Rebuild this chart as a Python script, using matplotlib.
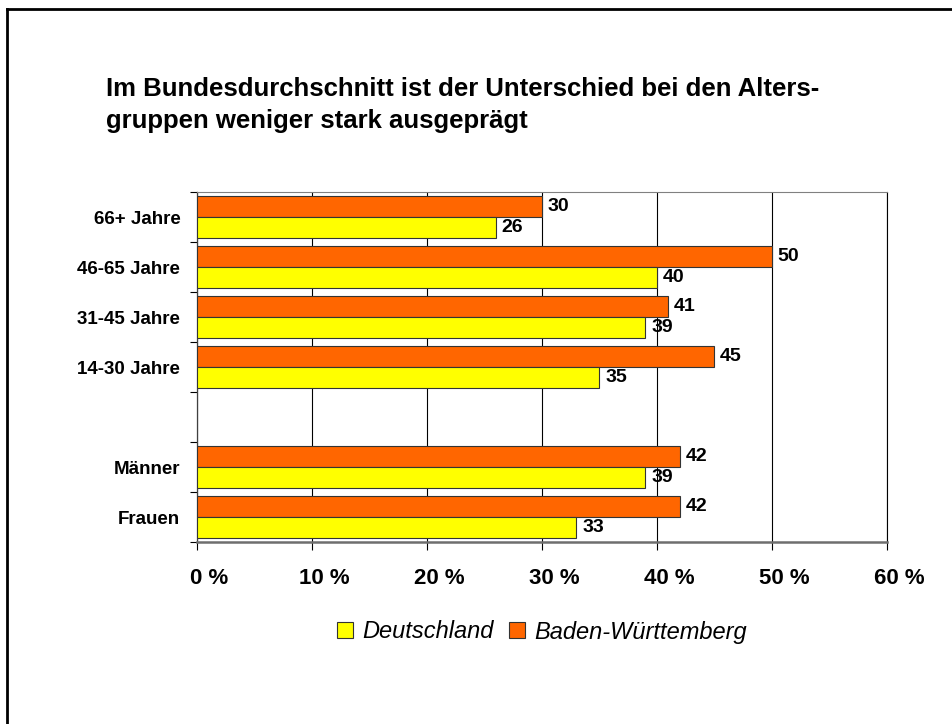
"""Altersgruppen: Deutschland vs. Baden-Württemberg (horizontales Balkendiagramm)."""
import matplotlib
matplotlib.use("Agg")
import matplotlib.pyplot as plt
import matplotlib.transforms as mtransforms
import numpy as np
from matplotlib.lines import Line2D

plt.rcParams["font.family"] = ["Liberation Sans", "DejaVu Sans"]

# ── Daten ──
categories = ["66+ Jahre", "46-65 Jahre", "31-45 Jahre", "14-30 Jahre", "", "Männer", "Frauen"]
deutschland = [26, 40, 39, 35, np.nan, 39, 33]
baden_wuerttemberg = [30, 50, 41, 45, np.nan, 42, 42]
x_ticks = [0, 10, 20, 30, 40, 50, 60]
x_ticklabels = ["0 %", "10 %", "20 %", "30 %", "40 %", "50 %", "60 %"]
title = ("Im Bundesdurchschnitt ist der Unterschied bei den Alters-\n"
         "gruppen weniger stark ausgeprägt")

YELLOW = "#FFFF00"
ORANGE = "#FF6600"


def main() -> None:
    W, H = 953, 724
    fig = plt.figure(figsize=(W / 100, H / 100), dpi=100)
    ax = fig.add_axes([197 / W, 1 - 542 / H, 690 / W, 350 / H])

    y = np.arange(len(categories))
    h = 0.42
    ax.barh(y - h / 2, baden_wuerttemberg, height=h, color=ORANGE,
            edgecolor="#333333", linewidth=0.8, zorder=3, label="Baden-Württemberg")
    ax.barh(y + h / 2, deutschland, height=h, color=YELLOW,
            edgecolor="#333333", linewidth=0.8, zorder=3, label="Deutschland")

    for yi, v in zip(y, baden_wuerttemberg):
        if not np.isnan(v):
            ax.annotate(f"{v:.0f}", (v, yi - h / 2), xytext=(4, 0), textcoords="offset points",
                        va="center", ha="left", fontsize=14, fontweight="bold")
    for yi, v in zip(y, deutschland):
        if not np.isnan(v):
            ax.annotate(f"{v:.0f}", (v, yi + h / 2), xytext=(4, 0), textcoords="offset points",
                        va="center", ha="left", fontsize=14, fontweight="bold")

    ax.set_xlim(0, 60)
    ax.set_ylim(len(categories) - 0.5, -0.5)

    ax.set_xticks(x_ticks)
    ax.set_xticklabels(x_ticklabels, fontsize=16, fontweight="bold")
    ax.tick_params(axis="x", length=5.5, width=0.8, pad=13, direction="out")
    shift = mtransforms.ScaledTranslation(12 / 100, 0, fig.dpi_scale_trans)
    for lbl in ax.get_xticklabels():
        lbl.set_transform(lbl.get_transform() + shift)

    # Ticks an Kategoriengrenzen, Beschriftungen in der Mitte
    ax.set_yticks(np.arange(-0.5, len(categories), 1.0))
    ax.set_yticklabels([])
    ax.set_yticks(y, minor=True)
    ax.set_yticklabels(categories, minor=True, fontsize=13.5, fontweight="bold")
    ax.tick_params(axis="y", which="major", length=5, width=0.8)
    ax.tick_params(axis="y", which="minor", length=0, pad=12)

    ax.xaxis.grid(True, color="black", linewidth=0.8, zorder=0)
    ax.set_axisbelow(True)
    ax.spines["top"].set_color("#808080")
    ax.spines["top"].set_linewidth(0.8)
    ax.spines["right"].set_color("black")
    ax.spines["right"].set_linewidth(0.8)
    ax.spines["bottom"].set_color("#6e6e6e")
    ax.spines["bottom"].set_linewidth(1.8)
    ax.spines["left"].set_color("#404040")
    ax.spines["left"].set_linewidth(0.9)

    handles, labels = ax.get_legend_handles_labels()
    fig.legend(handles[::-1], labels[::-1], loc="center", bbox_to_anchor=(542 / W, 1 - 632 / H),
               ncol=2, frameon=False, prop={"size": 17, "style": "italic"},
               handlelength=0.68, handleheight=0.65, handletextpad=0.38, columnspacing=0.68)

    fig.text(106 / W, 1 - 77 / H, title, ha="left", va="top", fontsize=18.5,
             fontweight="bold", linespacing=1.4)

    # abgeschnittener Rahmen (nur links und oben sichtbar)
    x0, y0 = 7 / W, 1 - 9 / H
    fig.add_artist(Line2D([x0, x0], [-0.1, y0], transform=fig.transFigure,
                          color="black", linewidth=2.0))
    fig.add_artist(Line2D([x0, 1.1], [y0, y0], transform=fig.transFigure,
                          color="black", linewidth=2.0))

    fig.savefig("out.png", dpi=100)
    plt.close(fig)


if __name__ == "__main__":
    main()
